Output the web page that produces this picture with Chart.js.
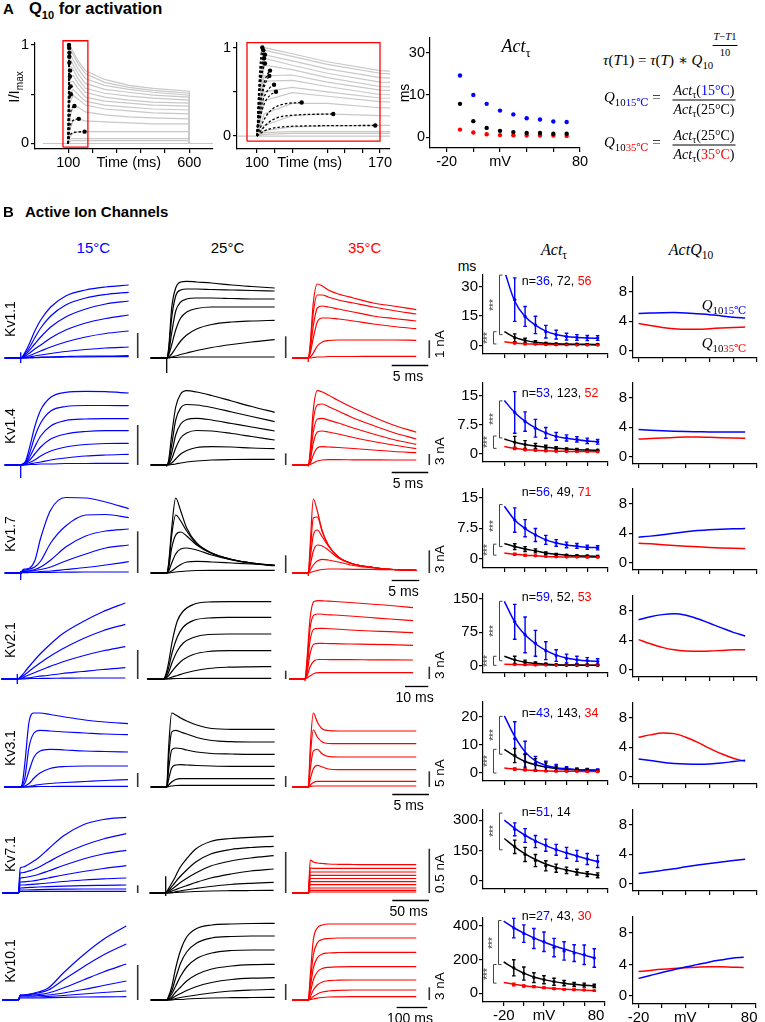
<!DOCTYPE html>
<html>
<head>
<meta charset="utf-8">
<script src="https://cdn.jsdelivr.net/npm/chart.js@4.4.1/dist/chart.umd.min.js"></script>
<style>
html,body{margin:0;padding:0;background:#fff;}
#fig{position:relative;width:765px;height:1022px;overflow:hidden;background:#fff;font-family:"Liberation Sans",Arial,sans-serif;color:#000;}
#fig canvas{position:absolute;}
.t{position:absolute;white-space:nowrap;line-height:1;}
.serif{font-family:"Liberation Serif","DejaVu Serif",serif;}
.frac{display:inline-flex;flex-direction:column;align-items:center;}
.frac .num{border-bottom:1px solid #000;padding:0 1px 2px;line-height:1;}
.frac .den{padding-top:2px;line-height:1;}
.sb{font-size:.72em;position:relative;top:.35em;}
.b{color:#0000ff}.r{color:#ff0000}
</style>
</head>
<body>
<div id="fig"></div>
<script>
// ======================= DATA =======================
// ---- Panel A : example normalised currents (I/Imax) ----
const aGrayTimes = [100,104,120,140,170,250,350,450,600,600];
const aGrayTraces = [
 [0,1.00,0.93,0.84,0.74,0.65,0.59,0.56,0.53,0],
 [0,0.97,0.90,0.81,0.71,0.62,0.57,0.54,0.51,0],
 [0,0.92,0.85,0.76,0.66,0.59,0.55,0.52,0.49,0],
 [0,0.88,0.80,0.71,0.61,0.55,0.52,0.49,0.47,0],
 [0,0.80,0.75,0.66,0.56,0.51,0.48,0.46,0.44,0],
 [0,0.68,0.69,0.61,0.52,0.47,0.44,0.42,0.41,0],
 [0,0.62,0.63,0.56,0.47,0.43,0.41,0.39,0.38,0],
 [0,0.50,0.55,0.50,0.43,0.39,0.37,0.35,0.34,0],
 [0,0.40,0.49,0.45,0.39,0.35,0.33,0.31,0.30,0],
 [0,0.25,0.37,0.37,0.32,0.29,0.27,0.26,0.25,0],
 [0,0.12,0.23,0.25,0.23,0.22,0.21,0.20,0.20,0],
 [0,0.06,0.105,0.115,0.12,0.12,0.12,0.12,0.12,0],
 [0,0.04,0.05,0.05,0.05,0.05,0.05,0.05,0.05,0],
 [0,0.02,0.03,0.03,0.03,0.03,0.03,0.03,0.03,0]
];
const aBaselineTimes = [-5, 698];
const aBaselineValues = [0, 0];
const aFitTimes = [
 [100,100.8,101.6,102.3,103],
 [100,101,102,103,103.6],
 [100,101,102,103,104.5],
 [100,101,102,103,104],
 [100,101,102,103,104.5],
 [100,101,102.5,104,105.5,107.4],
 [100,101,102.5,104,105.5,107],
 [100,101.5,103,105,107.5,109.7],
 [100,101.5,103,105,108,110.8],
 [100,102,105,109,115,125.4],
 [100,103,107,112,120,143.4],
 [100,103,108,115,130,167.3]
];
const aFitValues = [
 [0,0.45,0.76,0.92,1.00],
 [0,0.45,0.75,0.91,0.97],
 [0,0.40,0.66,0.82,0.92],
 [0,0.40,0.65,0.80,0.88],
 [0,0.35,0.58,0.72,0.82],
 [0,0.25,0.47,0.60,0.68,0.74],
 [0,0.22,0.42,0.55,0.63,0.68],
 [0,0.22,0.38,0.48,0.55,0.58],
 [0,0.17,0.30,0.40,0.47,0.50],
 [0,0.10,0.22,0.31,0.36,0.38],
 [0,0.08,0.16,0.21,0.235,0.25],
 [0,0.045,0.085,0.105,0.115,0.12]
];
const aBox1Times = [78, 181],   aBox1Values = [-0.037, 1.043];
const aBox2Times = [94.3, 170], aBox2Values = [-0.058, 1.055];
const aTauVoltages = [-10,0,10,20,30,40,50,60,70];
const aTau15 = [14.6,10.0,7.9,6.3,5.4,4.5,4.2,3.7,3.6];
const aTau25 = [7.9,3.8,2.2,1.5,1.2,1.0,1.0,0.8,0.8];
const aTau35 = [1.8,1.1,0.7,0.5,0.45,0.4,0.4,0.4,0.3];
const aTauTickValues = [0,10,20];
const aTauTickLabels = ['0','10','30'];

// ---- Panel B ----
const channels = ['Kv1.1','Kv1.4','Kv1.7','Kv2.1','Kv3.1','Kv7.1','Kv10.1'];
const tempLabels = ['15°C','25°C','35°C'];
// sample times (ms after the voltage step) for each channel row
const sampleTimes = [
 [-2.19,0,0.27,0.68,1.23,1.91,2.73,4.10,6.15,8.88,11.61,14.75],
 [-2.19,0,0.27,0.68,1.23,1.91,2.73,4.10,6.15,8.88,11.61,14.75],
 [-2.90,0,0.36,0.91,1.63,2.54,3.62,5.43,8.15,11.78,15.40,19.57],
 [-6.87,0,0.86,2.15,3.86,6.01,8.58,12.88,19.31,27.90,36.48,46.35],
 [-2.18,0,0.27,0.68,1.23,1.91,2.72,4.09,6.13,8.86,11.58,14.71],
 [-21.8,0,2.7,6.8,12.3,19.1,27.2,40.9,61.3,88.6,115.8,147.1],
 [-52.1,0,6.5,16.3,29.3,45.6,65.1,97.7,146.6,211.7,276.9,351.8]
];
const timeBarMs = [5,5,5,10,5,50,100];
const timeBarLabels = ['5 ms','5 ms','5 ms','10 ms','5 ms','50 ms','100 ms'];
const ampBarLabels = ['1 nA','3 nA','3 nA','3 nA','5 nA','0.5 nA','3 nA'];
const ampBars = [[25,21.7,17.7],[40,11.7,11],[41.7,17.7,22.7],[29,8.3,12.3],[14,11,15.7],[7.7,41,44.3],[35,16,12.7]];
const artifacts = [
 [[5.7,5],[0,18],[0,4]],
 [[0,13],[0,1.5],[0,1.5]],
 [[2,7],[0,0],[0,3]],
 [[5,5],[0,0],[0,2]],
 [[0,1],[0,0],[0,1]],
 [[0,0],[16.7,3],[0,0]],
 [[0,0],[0,0],[0,0]]
];

// current traces (a.u.) per channel and temperature
const kv11_15 = [
 [0,0,1.7,6.7,15,26.7,38,51,62,68,71,73],
 [0,0,1.5,5,11,20,30,42,53,60,63.5,65.7],
 [0,0,1,3.5,8,14,21,31,41,49,54,57],
 [0,0,1,2,5,9,13,20,28,35,39.5,43],
 [0,0,0.5,1,2.5,4.5,7,11,16,21,24.5,27],
 [0,0,0,0.5,1,2,3,4.5,6.5,8.5,10,11],
 [0,0,0,0,0.5,0.5,1,1,1.5,2,2,2.3],
 [0,0,0,0,0,0.3,0.5,0.8,1,1.2,1.3,1.3]
];
const kv11_25 = [
 [0,0,10,50,70,76,76.7,76,75,73,71.5,70],
 [0,0,8,40,62,68,69,69,68.5,68,67.5,67],
 [0,0,5,25,47,56,59,60,60,59.5,59,59],
 [0,0,3,13,28,40,46,49.5,51,51,51,51],
 [0,0,1,4,10,17,23,29,33.5,36,37,37.7],
 [0,0,0.5,1,2,3.5,5,7.5,10.5,13.5,16,18.3],
 [0,0,0,0.5,0.5,1,1,1,1,1,1,1]
];
const kv11_35 = [
 [0,0,15,55,74,72,68,64,60,55,52,48.3],
 [0,0,12,45,63,63,61,58,55,51,47.5,44],
 [0,0,8,32,50,52,51,49,46,42,39.5,37],
 [0,0,5,20,36,40,40,39,37,34,31.5,29.3],
 [0,0,1,5,12,16,17.5,18,18,18,18,17.7],
 [0,0,0,0.5,1,1,1.5,1.5,1.5,1.7,1.7,1.7]
];
const kv14_15 = [
 [0,0,1,4,18,38,55,67.7,72.7,73.7,73.3,72],
 [0,0,1,3,12,28,42,54,58.5,59.5,59.5,59.3],
 [0,0,0.5,2,8,18,29,39,44.5,46,46.3,46.3],
 [0,0,0.5,1.5,5,11,18,26,31,33.5,34.3,34.3],
 [0,0,0,1,2.5,5,9,14,18,20.5,21.5,21.7],
 [0,0,0,0.5,1,2,3,5,7,9,10,10.7],
 [0,0,0,0,0.5,0.5,1,1,1.5,1.5,1.7,1.7]
];
const kv14_25 = [
 [0,0,5,30,58,71,74.3,73,69.5,64,58.5,52.7],
 [0,0,3,20,45,57,60.5,60,57.5,53,48.5,43.3],
 [0,0,2,12,30,41,45.5,46.7,45,41.5,38,34],
 [0,0,1,6,17,27,32,34.5,34,31.5,28.5,25],
 [0,0,0.5,2,6,11,14.5,17.5,18.3,18,17,16.3],
 [0,0,0,0.5,1,2,3,4,5,5.5,5.7,5.7]
];
const kv14_35 = [
 [0,0,15,55,74.3,73,70,64.5,57,48,40,32.7],
 [0,0,12,45,60,61,58.5,54,47,39.5,32.5,26],
 [0,0,8,33,46,46.7,45,42,37,31,25.5,20.7],
 [0,0,5,22,33,34,33,31,27.5,23.5,20,16.3],
 [0,0,2,10,17,18.3,18,17.5,16.5,15,13.5,12.3],
 [0,0,0.5,2,4,5,5.3,5.3,5.2,5.1,5,5]
];
const kv17_15 = [
 [0,0,3,4,5,12,35,63,75.5,75,71,64.3],
 [0,0,2,3,4,6,12,30,47,58,58.5,55.3],
 [0,0,1.5,2,2.5,3.5,6,13,26,37,42,44],
 [0,0,1,1.5,2,2.5,3.5,6,12,19,25,28],
 [0,0,0.5,0.5,1,1,1.5,2,3.5,5.5,8,11.3],
 [0,0,0.3,0.3,0.5,0.5,0.5,0.7,0.8,1,1,1]
];
const kv17_25 = [
 [0,0,10,45,75,62,45,30,20,13.5,10,7.7],
 [0,0,8,38,58,52,42,29,20,13.5,10,7.7],
 [0,0,5,25,38,41,37,28,19.5,13.5,10,7.5],
 [0,0,2,10,19,24,25,23,18,13,9.5,7.3],
 [0,0,0.5,2,5,8.5,11,11.7,11,10,9,7.7],
 [0,0,0,0.5,1,1.5,2,2.5,2.7,2.7,2.7,2.7]
];
const kv17_35 = [
 [0,0,30,74,62,42,28,16,9,5.5,3.5,2.7],
 [0,0,22,55,56,41,28,16,9,5.5,3.5,2.7],
 [0,0,15,38,43,36,27,16,9,5.5,3.5,2.7],
 [0,0,8,22,28,27,23,15,9,5.5,3.5,2.7],
 [0,0,3,8,12,13.7,13,11,7.5,5,3.5,2.7],
 [0,0,0.5,1.5,2.5,3.5,4,4,3.7,3.5,3.3,3]
];
const kv21_15 = [
 [0,0,1,4,9,15,22,32,45,57,67,76],
 [0,0,0.5,2.5,5.5,9.5,14,21,30,40,48,54.7],
 [0,0,0.5,1,3,5,7.5,11.5,17,23,28,32.3],
 [0,0,0,0.5,1,1.5,2.5,3.5,5.5,7.5,9.5,11.3],
 [0,0,0,0,0.3,0.5,0.5,0.7,0.8,1,1,1]
];
const kv21_25 = [
 [0,0,3,15,38,58,68,74.5,77,77.3,77.3,77.3],
 [0,0,2,10,27,42,52,58.5,61,61.7,61.7,61.7],
 [0,0,1,6,17,28,36,41.5,44.5,45,45,45],
 [0,0,0.5,3,8,14,19.5,24.5,27.5,28.3,28.3,28.3],
 [0,0,0,0.5,2,3.5,5.5,8,10.5,11.8,12.2,12.3],
 [0,0,0,0,0.3,0.5,0.5,0.6,0.7,0.7,0.7,0.7]
];
const kv21_35 = [
 [0,0,20,60,77.5,78.3,78,77.5,76.5,75,73.5,71.3],
 [0,0,15,50,64,65,64.5,64,63,61.5,60,58.3],
 [0,0,10,38,50,50.7,50.5,50,49,48,47.3,46.3],
 [0,0,6,25,35,35.7,35.5,35.3,35,34.7,34.3,33.7],
 [0,0,3,12,18,19.5,19.5,19.3,19.3,19.2,19.1,19],
 [0,0,1,3,5.5,6.3,6.3,6.3,6.3,6.3,6.3,6.3]
];
const kv31_15 = [
 [0,0,2,25,65,74,74,72.5,70,67,65,63.3],
 [0,0,1,10,40,54,56.7,56,55,54,53,52.3],
 [0,0,0.5,4,16,30,36,37.7,37,36,35.5,35],
 [0,0,0,1,3.5,9,14,18.5,20.5,21,21,21],
 [0,0,0,0,0.5,1.5,2.5,3.5,4.5,5.5,6.5,7.3],
 [0,0,0,0,0,0.3,0.5,0.5,0.6,0.7,0.7,0.7]
];
const kv31_25 = [
 [0,0,40,74,72,69,66,62,58.5,57.7,57.7,57.7],
 [0,0,30,55,56.7,55,53,49.5,46.5,45.3,45,45],
 [0,0,18,37,39,38.5,37,35,33.5,33,32.7,32.7],
 [0,0,8,19,22,22.3,22,21.5,21,20.7,20.7,20.7],
 [0,0,2,5,7.5,8.3,8.3,8.3,8.3,8.3,8.3,8.3],
 [0,0,0.5,1,1.5,1.7,1.7,1.7,1.7,1.7,1.7,1.7]
];
const kv31_35 = [
 [0,0,40,74,65,58,56.5,56,56,56,56,56],
 [0,0,30,57,50,45,43.5,43.3,43.3,43.3,43.3,43.3],
 [0,0,18,36,37.7,33,30.5,30,30,30,30,30],
 [0,0,8,18,21.7,20,18,17.3,17.3,17.3,17.3,17.3],
 [0,0,2,4.5,5.7,5.7,5.7,5.7,5.7,5.7,5.7,5.7],
 [0,0,0.5,1,1,1,1,1,1,1,1,1]
];
const kv71_15 = [
 [0,0,25,26,28,31,35,44,57,68.3,73.5,75.7],
 [0,0,20,20.5,21.5,23,25.5,31,39,47.5,54,59.3],
 [0,0,15,15.3,16,17,18.5,22,27.5,34,39,42.7],
 [0,0,11,11.2,11.5,12,13,15,18,21.5,24.5,27.3],
 [0,0,8,8,8.3,8.7,9.2,10,11.5,13,14.2,15],
 [0,0,5,5.2,5.4,5.7,6,6.4,6.9,7.4,7.7,8],
 [0,0,3,3,3,3.2,3.4,3.6,3.8,4,4,4],
 [0,0,1.5,1.5,1.5,1.5,1.6,1.6,1.7,1.7,1.7,1.7]
];
const kv71_25 = [
 [0,0,3,8,15,25,33,44,51.5,54.5,55.7,56.7],
 [0,0,2,5,10,16,22,31,39,43.5,45.5,46.7],
 [0,0,1,3,6,10,14,20,27,32,35,37.3],
 [0,0,0.5,1.5,3,5,7,10.5,15,19,22,24],
 [0,0,0,0.5,1,2,3,4.5,6.5,8.5,9.7,10.7],
 [0,0,0,0,0.5,0.8,1,1.5,2,2.3,2.5,2.7]
];
const kv71_35 = [
 [0,0,33,31,30,29.5,29,28.7,28.5,28.3,28.3,28.3],
 [0,0,25,24.7,24.7,24.7,24.7,24.7,24.7,24.7,24.7,24.7],
 [0,0,21,21,21,21,21,21,21,21,21,21],
 [0,0,17.7,17.7,17.7,17.7,17.7,17.7,17.7,17.7,17.7,17.7],
 [0,0,14.5,14.5,14.5,14.5,14.5,14.5,14.5,14.5,14.5,14.5],
 [0,0,11.3,11.3,11.3,11.3,11.3,11.3,11.3,11.3,11.3,11.3],
 [0,0,8.3,8.3,8.3,8.3,8.3,8.3,8.3,8.3,8.3,8.3],
 [0,0,5,5,5,5,5,5,5,5,5,5],
 [0,0,2.7,2.7,2.7,2.7,2.7,2.7,2.7,2.7,2.7,2.7],
 [0,0,1,1,1,1,1,1,1,1,1,1]
];
const kv101_15 = [
 [0,0,5,5,5.5,6.5,8,12,27,45,60.5,74],
 [0,0,5,5,5,6,7,10,20,33,45,56],
 [0,0,4.5,4.5,4.5,5,5.5,7,12,20,28,36],
 [0,0,4,4,4,4,4.5,5,7,10.5,14.5,19],
 [0,0,3,3,3,3,3,3.5,4.5,6,7.5,9],
 [0,0,2,2,2,2,2,2.3,2.7,3,3.2,3.3]
];
const kv101_25 = [
 [0,0,4,13,32,50,63,71.5,75,76,76.5,76.7],
 [0,0,3,9,22,37,48,57,62,63.5,64,64],
 [0,0,2,6,14,24,33,41.5,47,49.5,50,50],
 [0,0,1,3,8,13,19,25.5,31,34,35.3,35.7],
 [0,0,0.5,1.5,4,6.5,9.5,13.5,17.5,20.5,21.8,22.3],
 [0,0,0,0.5,1.5,2.5,3.5,5,7,9,10,10.7],
 [0,0,0,0,0.5,0.5,1,1.5,2,2.3,2.5,2.7]
];
const kv101_35 = [
 [0,0,25,60,72,75,76,76,76,76,76,76],
 [0,0,18,45,57,60.5,61.5,62,62,62,62,62],
 [0,0,12,32,42,46,47,47.5,47.7,47.7,47.7,47.7],
 [0,0,7,20,28,31.5,32.7,33.2,33.3,33.3,33.3,33.3],
 [0,0,3,10,15,18,19.3,19.8,20,20,20,20],
 [0,0,1,3.5,6,8,9,9.7,10,10,10,10],
 [0,0,0.5,1,1.8,2.5,3,3.2,3.3,3.3,3.3,3.3]
];

// activation time constants (ms): fitted curves, means and error bars [15°C, 25°C, 35°C]
const tauFitVoltages = [-20,-10,0,10,20,30,40,50,60,70];
const tauMeanVoltages = [-10,0,10,20,30,40,50,60,70];
const tauFitKv11 = [[38,22.5,14.8,10.4,7.4,5.7,4.7,4.2,3.9,3.8],[7.1,4.2,2.7,1.8,1.3,1.0,0.9,0.8,0.7,0.65],[2.0,1.4,1.0,0.8,0.65,0.55,0.5,0.45,0.45,0.4]];
const tauMeanKv11 = [[23.3,14.8,10.5,7.1,5.6,4.6,4.2,3.9,3.9],[4.0,2.6,1.7,1.2,0.9,0.8,0.8,0.7,0.6],[1.4,0.9,0.8,0.6,0.5,0.5,0.4,0.4,0.4]];
const tauErrKv11 = [[11,5,4.4,3.2,2.2,1.7,1.4,1.3,1.2],[2,1.2,0.8,0.5,0.4,0.3,0.3,0.3,0.3],[0.4,0.3,0.2,0.2,0.2,0.2,0.2,0.2,0.2]];
const tauFitKv14 = [[13.7,10.6,8.3,6.6,5.3,4.4,3.9,3.5,3.2,3.0],[3.7,2.9,2.3,1.9,1.6,1.3,1.1,0.95,0.87,0.8],[1.75,1.3,0.95,0.8,0.65,0.55,0.5,0.45,0.45,0.42]];
const tauMeanKv14 = [[10.6,8.25,6.5,5.3,4.4,4.0,3.65,3.25,3.0],[2.9,2.3,1.9,1.6,1.3,1.1,0.95,0.87,0.8],[1.3,0.95,0.8,0.65,0.55,0.5,0.45,0.45,0.42]];
const tauErrKv14 = [[5.4,2.5,2.3,1.4,1.0,0.8,0.7,0.7,0.6],[1.5,1.0,0.7,0.5,0.4,0.3,0.3,0.2,0.2],[0.3,0.2,0.2,0.15,0.15,0.1,0.1,0.1,0.1]];
const tauFitKv17 = [[12.9,9.5,7.4,5.85,4.65,3.9,3.4,3.1,2.85,2.7],[3.75,3.0,2.4,1.95,1.45,1.1,0.9,0.75,0.7,0.6],[1.4,1.1,0.9,0.75,0.6,0.5,0.45,0.45,0.4,0.4]];
const tauMeanKv17 = [[9.5,7.5,5.85,4.65,3.9,3.4,3.15,2.85,2.7],[3.0,2.4,1.95,1.4,1.1,0.9,0.75,0.7,0.6],[1.1,0.9,0.75,0.6,0.5,0.45,0.45,0.4,0.4]];
const tauErrKv17 = [[3,2.1,1.6,1.1,0.8,0.7,0.6,0.5,0.5],[0.7,0.6,0.5,0.3,0.2,0.2,0.2,0.2,0.2],[0.25,0.2,0.15,0.1,0.1,0.1,0.1,0.1,0.1]];
const tauFitKv21 = [[144,98,69,49,34,23.5,17,13.5,11,9.6],[21,13,7.8,5.2,3.4,2.2,1.6,1.3,1.1,1.0],[3.4,2.7,2.0,1.6,1.3,1.1,0.9,0.8,0.75,0.7]];
const tauMeanKv21 = [[98,69,50,33.5,22.6,15.8,13,11,9.6],[13,7.5,5.5,3.4,2.0,1.4,1.2,1.0,1.0],[2.7,2.0,1.6,1.3,1.1,0.9,0.8,0.75,0.7]];
const tauErrKv21 = [[39,40,29,20,13,10,8,7,6],[8,5,3,2,1.2,1,0.8,0.7,0.7],[0.8,0.6,0.5,0.4,0.3,0.3,0.3,0.3,0.3]];
const tauFitKv31 = [[20.3,13,7.5,4.3,2.7,1.9,1.5,1.2,1.1,1.0],[8.4,6.0,4.1,2.9,2.1,1.6,1.3,1.1,1.0,0.9],[1.75,1.4,1.1,0.9,0.75,0.65,0.6,0.6,0.55,0.5]];
const tauMeanKv31 = [[12.2,6.7,3.5,2.4,1.85,1.4,1.2,1.1,1.0],[6.2,4.0,2.9,2.1,1.6,1.3,1.1,1.0,0.9],[1.4,1.1,0.9,0.75,0.65,0.6,0.6,0.55,0.5]];
const tauErrKv31 = [[6,4.6,2.4,1.8,1.2,0.8,0.6,0.5,0.4],[2.5,2.7,2.2,1.5,0.9,0.6,0.4,0.4,0.3],[0.4,0.3,0.2,0.2,0.2,0.2,0.2,0.2,0.2]];
const tauFitKv71 = [[300,259,225,197,174,154,137,122,108,95],[209,168,133,105,83,66,53,42,34,28],null];
const tauMeanKv71 = [[254.5,224,194,176,153,138,123,107.5,95.5],[168,130,100,74,62,51.5,42.5,33,27],null];
const tauErrKv71 = [[32,34,30,30,27,27,27,27,30],[33,35,30,25,20,16,14,12,12],null];
const tauFitKv101 = [[429,390,358,330,305,283,263,245,227,210],[186,150,120,97,81,69,60,53,48,43],[64,53,45,38,33,28,24,21,18,16]];
const tauMeanKv101 = [[388,355,326,307,272,252,239,229,210],[151,117,93,80,68,60,52,48,43],[52,43,39,33,27,23,21,19,15.5]];
const tauErrKv101 = [[58,52,60,58,55,55,50,58,55],[48,39,29,24,21,16,12,12,10],[8,6,5,5,4,4,4,3,3]];
const tauTicks = [[0,15,30],[0,7.5,15],[0,7.5,15],[0,75,150],[0,10,20],[0,150,300],[0,200,400]];
const tauYRange = [[-4.18,35.76],[-2.24,18.24],[-2.25,17.12],[-16.4,160.3],[-2.84,25.22],[-40.9,350],[-52.4,448.2]];
const sigBrackets = [
 [[35.7,5.6],[7.1,0.9]],
 [[13.6,4.0],[4.5,1.3]],
 [[13.3,3.0],[3.6,0.9]],
 [[144,11],[21,0.7]],
 [[20.1,6.7],[8.4,0]],
 [[335,153]],
 [[433,171],[171,60]]
];
const nCounts = [[36,72,56],[53,123,52],[56,49,71],[59,52,53],[43,143,34],[51,14],[27,43,30]];

// Q10 curves [Q10 15°C, Q10 35°C]
const q10Voltages = [-20,-10,0,10,20,30,40,50,60,70];
const q10Kv11 = [[5.04,5.1,5.16,5.17,5.12,5.0,4.88,4.72,4.55,4.42],[3.7,3.4,3.15,2.98,2.9,2.9,2.98,3.08,3.15,3.2]];
const q10Kv14 = [[3.69,3.6,3.52,3.45,3.4,3.38,3.36,3.36,3.36,3.36],[2.38,2.47,2.54,2.6,2.66,2.66,2.62,2.58,2.54,2.5]];
const q10Kv17 = [[3.46,3.6,3.78,4.0,4.19,4.35,4.47,4.55,4.6,4.62],[2.64,2.55,2.44,2.34,2.24,2.15,2.07,2.0,1.95,1.91]];
const q10Kv21 = [[6.78,7.18,7.47,7.59,7.39,6.9,6.29,5.67,5.06,4.57],[4.08,3.51,3.02,2.69,2.53,2.49,2.53,2.61,2.69,2.69]];
const q10Kv31 = [[2.41,2.2,1.96,1.8,1.71,1.67,1.71,1.84,2.04,2.24],[5.35,5.67,5.92,5.84,5.35,4.65,3.84,3.1,2.49,2.08]];
const q10Kv71 = [[1.39,1.58,1.8,2.02,2.29,2.53,2.75,2.95,3.13,3.31],null];
const q10Kv101 = [[2.24,2.6,2.98,3.33,3.67,3.98,4.29,4.55,4.78,4.9],[3.1,3.25,3.39,3.5,3.59,3.66,3.71,3.7,3.65,3.6]];
const q10Ticks = [0,4,8];
const mvTicks = [-20,0,20,40,60,80];

// tables built from the arrays above
const traceSets = [[kv11_15,kv11_25,kv11_35],[kv14_15,kv14_25,kv14_35],[kv17_15,kv17_25,kv17_35],[kv21_15,kv21_25,kv21_35],[kv31_15,kv31_25,kv31_35],[kv71_15,kv71_25,kv71_35],[kv101_15,kv101_25,kv101_35]];
const tauFits = [tauFitKv11,tauFitKv14,tauFitKv17,tauFitKv21,tauFitKv31,tauFitKv71,tauFitKv101];
const tauMeans = [tauMeanKv11,tauMeanKv14,tauMeanKv17,tauMeanKv21,tauMeanKv31,tauMeanKv71,tauMeanKv101];
const tauErrs = [tauErrKv11,tauErrKv14,tauErrKv17,tauErrKv21,tauErrKv31,tauErrKv71,tauErrKv101];
const q10Sets = [q10Kv11,q10Kv14,q10Kv17,q10Kv21,q10Kv31,q10Kv71,q10Kv101];

// ======================= LAYOUT =======================
const BLUE='#0000ff', RED='#ff0000', BLACK='#000000', GRAY='#c8c8c8';
const tempColors=[BLUE,BLACK,RED];
const traceColLeft=[0,147,289];
const traceBaseline=[358,465,573,679,787,893,1000];
const traceOnsets=[[20.7,166.7,308.3],[20.7,166.7,308.3],[20.7,166.7,308.3],[17.3,163.3,305],[20,166.7,308.3],[18.3,165.7,308.3],[18.3,166.7,308.3]];
const timeBarPx=[36.6,36.6,27.6,23.3,36.7,36.7,30.7];
const timeBarRight=[428.3,428.3,419.3,428.3,429,429,427.3];
const ampBarX=[137.7,285.7,429.3];
const tauAxisY=[359,467,573,678,786,894,1002];
const q10Zero=[355.3,462,568.3,674.7,782,888.7,996];
const nLabelY=[281,392.5,492,597,712.7,811.7,916];
const bracketX=[-25.5,-30.5];
const AXFONT=15;

Chart.defaults.font.family='"Liberation Sans", Arial, sans-serif';
Chart.defaults.color='#000';

const fig=document.getElementById('fig');

function canvasAt(l,t,w,h){
  const c=document.createElement('canvas');
  c.width=w; c.height=h;
  c.style.left=l+'px'; c.style.top=t+'px';
  c.style.width=w+'px'; c.style.height=h+'px';
  fig.appendChild(c);
  return c;
}
function addText(html,x,y,cls,style,mode){
  const d=document.createElement('div');
  d.className='t'+(cls?' '+cls:'');
  if(style) d.style.cssText=style;
  d.innerHTML=html;
  d.style.left=x+'px'; d.style.top=y+'px';
  const tf={c:'translate(-50%,-50%)', l:'translateY(-50%)', rc:'translate(-50%,-50%) rotate(-90deg)', rb:'translateY(-50%) rotate(-90deg)'}[mode||'l'];
  d.style.transform=tf;
  if(mode==='rb') d.style.transformOrigin='0 50%';
  fig.appendChild(d);
  return d;
}
function lineDS(xs,ys,color,width,extra){
  return Object.assign({data:xs.map((x,i)=>({x:x,y:ys[i]})),borderColor:color,backgroundColor:color,borderWidth:width,pointRadius:0,fill:false,tension:0},extra||{});
}
function linAxis(o){
  return {
    type:'linear', position:o.pos, min:o.min, max:o.max,
    afterBuildTicks:a=>{a.ticks=o.ticks.map(v=>({value:v}));},
    afterFit:s=>{ if(o.pos==='bottom') s.height=o.size; else s.width=o.size; },
    ticks:{display:o.labels!==false, autoSkip:false, maxRotation:0, minRotation:0, padding:(o.pad==null?1:o.pad),
      font:{size:o.fs||AXFONT}, color:'#000', callback:(v)=>o.fmt?o.fmt(v):String(v)},
    grid:{display:true, drawOnChartArea:false, drawTicks:true, tickLength:o.tl||4, color:'#000', lineWidth:1.2,
      tickColor:o.tickColor||'#000'},
    border:{display:true, color:'#000', width:1.2}
  };
}
const errPlugin={id:'err',afterDatasetsDraw(chart){
  const ctx=chart.ctx, xs=chart.scales.x, ys=chart.scales.y;
  chart.data.datasets.forEach(ds=>{
    if(!ds.errors) return;
    ctx.save(); ctx.strokeStyle=ds.borderColor; ctx.lineWidth=1.4;
    ds.data.forEach((p,i)=>{
      const e=ds.errors[i]; const x=xs.getPixelForValue(p.x);
      const y1=ys.getPixelForValue(p.y-e), y2=ys.getPixelForValue(p.y+e);
      ctx.beginPath(); ctx.moveTo(x,y1); ctx.lineTo(x,y2);
      ctx.moveTo(x-1.8,y1); ctx.lineTo(x+1.8,y1); ctx.moveTo(x-1.8,y2); ctx.lineTo(x+1.8,y2);
      ctx.stroke();
    });
    ctx.restore();
  });
}};
const brkPlugin={id:'brk',afterDatasetsDraw(chart,args,opts){
  if(!opts||!opts.items) return;
  const ctx=chart.ctx, xs=chart.scales.x, ys=chart.scales.y;
  ctx.save(); ctx.strokeStyle='#444'; ctx.lineWidth=1;
  opts.items.forEach((b,i)=>{
    const x=Math.round(xs.getPixelForValue(opts.xs[i]))+0.5, yt=ys.getPixelForValue(b[0]), yb=ys.getPixelForValue(b[1]);
    ctx.beginPath(); ctx.moveTo(x+3,yt); ctx.lineTo(x,yt); ctx.lineTo(x,yb); ctx.lineTo(x+3,yb); ctx.stroke();
  });
  ctx.restore();
}};
function axesChart(g,datasets,xAx,yAx,pluginOpts){
  const padT=8,padR=14;
  const l=g.L-g.wy, t=g.T-padT, w=g.wy+g.W+padR, h=padT+g.H+g.hx;
  const cv=canvasAt(l,t,w,h);
  const chart=new Chart(cv,{type:'line',data:{datasets:datasets},options:{
    responsive:false, animation:false, events:[],
    layout:{padding:{top:padT,right:padR,left:0,bottom:0}},
    plugins:Object.assign({legend:{display:false},tooltip:{enabled:false}},pluginOpts||{}),
    scales:{x:xAx,y:yAx}
  },plugins:[errPlugin,brkPlugin]});
  chart.$pageL=l; chart.$pageT=t;
  return chart;
}

// ======================= PANEL A =======================
addText('A',3,8,'','font-weight:bold;font-size:15px','l');
addText('Q<span style="font-size:11px;position:relative;top:5px">10</span> for activation',29,8,'','font-weight:bold;font-size:16.5px','l');

function panelAChart(g,xr,xticks,xfmt,yr,boxT,boxV){
  const ds=[];
  aFitTimes.forEach((ts,k)=>{const n=ts.length; ds.push(lineDS(ts,aFitValues[k],BLACK,1.3,{borderDash:[2.5,2],pointRadius:c=>c.dataIndex===n-1?2.2:0,pointBackgroundColor:BLACK,pointBorderWidth:0,cubicInterpolationMode:'monotone'}));});
  ds.push(lineDS([boxT[0],boxT[1],boxT[1],boxT[0],boxT[0]],[boxV[0],boxV[0],boxV[1],boxV[1],boxV[0]],RED,1.3,{clip:false}));
  aGrayTraces.forEach(tr=>ds.push(lineDS(aGrayTimes,tr,GRAY,1.2)));
  ds.push(lineDS(aBaselineTimes,aBaselineValues,GRAY,1.2));
  return axesChart(g,ds,
    linAxis({pos:'bottom',min:xr[0],max:xr[1],ticks:xticks,size:22,pad:1,fmt:xfmt,fs:14.5,
      tickColor:c=>(c.tick&&xfmt(c.tick.value)==='Time (ms)')?'rgba(0,0,0,0)':'#000'}),
    linAxis({pos:'left',min:yr[0],max:yr[1],ticks:[0,0.5,1],size:22,pad:2,fs:14.5,fmt:v=>v===0?'0':v===1?'1':''}));
}
panelAChart({L:35,T:40,W:178,H:109,wy:22,hx:22},[-37.6,698],[100,200,300,350,400,500,600],
  v=>v===100?'100':v===350?'Time (ms)':v===600?'600':'',[-0.056,1.023],aBox1Times,aBox1Values);
panelAChart({L:237,T:40,W:153,H:109,wy:22,hx:22},[88.6,175.7],[100,110,120,130,140,150,160,170],
  v=>v===100?'100':v===130?'Time (ms)':v===170?'170':'',[-0.146,1.055],aBox2Times,aBox2Values);
addText('I/I<span style="font-size:10px;position:relative;top:4px">max</span>',13,87,'','font-size:15px','rc');

// A3 tau scatter
(function(){
  const ds=[
    lineDS(aTauVoltages,aTau15,BLUE,1,{showLine:false,pointRadius:2.2,pointBorderWidth:0}),
    lineDS(aTauVoltages,aTau25,BLACK,1,{showLine:false,pointRadius:2.2,pointBorderWidth:0}),
    lineDS(aTauVoltages,aTau35,RED,1,{showLine:false,pointRadius:2.2,pointBorderWidth:0})
  ];
  axesChart({L:430,T:36,W:150,H:112,wy:28,hx:22},ds,
    linAxis({pos:'bottom',min:-32.5,max:80,ticks:mvTicks,size:22,pad:1,fs:14.5,fmt:v=>v===-20?'-20':v===20?'mV':v===80?'80':''}),
    linAxis({pos:'left',min:-2.56,max:23.56,ticks:aTauTickValues,size:28,pad:1,fs:14.5,fmt:v=>aTauTickLabels[aTauTickValues.indexOf(v)]}));
  addText('ms',404,93,'','font-size:14px','rc');
  addText('<i>Act</i><span class="sb">τ</span>',516,46,'serif','font-size:18px','c');
})();

// equations
addText('<i>τ</i>(<i>T</i>1) = <i>τ</i>(<i>T</i>) ∗ <i>Q</i><span class="sb">10</span>',603,60,'serif','font-size:15px','l');
addText('<span class="frac"><span class="num"><i>T</i>−<i>T</i>1</span><span class="den">10</span></span>',725,45,'serif','font-size:10.5px','c');
addText('<i>Q</i><span class="sb">10<span class="b">15℃</span></span> =',604,97,'serif','font-size:15px','l');
addText('<span class="frac"><span class="num"><i>Act</i><span class="sb">τ</span>(<span class="b">15°C</span>)</span><span class="den"><i>Act</i><span class="sb">τ</span>(25°C)</span></span>',704,99.5,'serif','font-size:14px','c');
addText('<i>Q</i><span class="sb">10<span class="r">35℃</span></span> =',604,142,'serif','font-size:15px','l');
addText('<span class="frac"><span class="num"><i>Act</i><span class="sb">τ</span>(25°C)</span><span class="den"><i>Act</i><span class="sb">τ</span>(<span class="r">35°C</span>)</span></span>',704,144.5,'serif','font-size:14px','c');

// ======================= PANEL B =======================
addText('B',3,210.5,'','font-weight:bold;font-size:15px','l');
addText('Active Ion Channels',25,210.5,'','font-weight:bold;font-size:15px','l');
addText(tempLabels[0],93.3,247,'','font-size:15px;color:'+BLUE,'c');
addText(tempLabels[1],227.5,247,'','font-size:15px;color:'+BLACK,'c');
addText(tempLabels[2],364.7,247,'','font-size:15px;color:'+RED,'c');
addText('<i>Act</i><span class="sb">τ</span>',554,250,'serif','font-size:16px','c');
addText('<i>Act</i><i>Q</i><span class="sb">10</span>',691,250,'serif','font-size:16px','c');
addText('ms',467,266,'','font-size:14px','c');

function tracePanel(r,c){
  const L=traceColLeft[c], W=150, base=traceBaseline[r], T=base-85, H=100;
  const ppm=timeBarPx[r]/timeBarMs[r], on=traceOnsets[r][c];
  const xmin=(L-on)/ppm, xmax=(L+W-on)/ppm;
  const col=tempColors[c], times=sampleTimes[r];
  const ds=[];
  traceSets[r][c].forEach(tr=>ds.push(lineDS(times,tr,col,1.2,{cubicInterpolationMode:'monotone'})));
  const art=artifacts[r][c];
  if(art[0]||art[1]) ds.push(lineDS([0,0],[art[0],-art[1]],col,1.3));
  const bx=(ampBarX[c]-on)/ppm;
  ds.push(lineDS([bx,bx],[0,ampBars[r][c]],'#333',1.6));
  if(c===2){
    const tr=(timeBarRight[r]-on)/ppm;
    ds.push(lineDS([tr-timeBarMs[r],tr],[-7.5,-7.5],'#000',1.3));
  }
  const cv=canvasAt(L,T,W,H);
  new Chart(cv,{type:'line',data:{datasets:ds},options:{responsive:false,animation:false,events:[],
    layout:{padding:0},plugins:{legend:{display:false},tooltip:{enabled:false}},
    scales:{x:{type:'linear',display:false,min:xmin,max:xmax},y:{type:'linear',display:false,min:-15,max:85}}}});
  if(c===2){
    addText(timeBarLabels[r],timeBarRight[r]-timeBarPx[r]/2-2,base+17.5,'','font-size:14px','c');
    addText(ampBarLabels[r],440,base,'','font-size:13.5px','rb');
  }
}

function tauChart(r){
  const last=r===6;
  const g={L:483,W:125,T:tauAxisY[r]-86,H:86,wy:34,hx:last?24:5};
  const ds=[];
  for(let k=0;k<3;k++){
    if(!tauFits[r][k]) continue;
    ds.push(lineDS(tauFitVoltages,tauFits[r][k],tempColors[k],1.5,{cubicInterpolationMode:'monotone'}));
    ds.push(lineDS(tauMeanVoltages,tauMeans[r][k],tempColors[k],1.4,{showLine:false,pointRadius:1.7,pointBorderWidth:0,errors:tauErrs[r][k]}));
  }
  const ch=axesChart(g,ds,
    linAxis({pos:'bottom',min:-40.6,max:80,ticks:mvTicks,size:g.hx,labels:last,pad:1,
      fmt:v=>v===-20?'-20':v===20?'mV':v===80?'80\u00a0\u00a0\u00a0\u00a0':''}),
    linAxis({pos:'left',min:tauYRange[r][0],max:tauYRange[r][1],ticks:tauTicks[r],size:34,pad:1}),
    {brk:{items:sigBrackets[r],xs:bracketX}});
  sigBrackets[r].forEach((b,i)=>{
    const x=ch.$pageL+ch.scales.x.getPixelForValue(bracketX[i])-5;
    const y=ch.$pageT+(ch.scales.y.getPixelForValue(b[0])+ch.scales.y.getPixelForValue(b[1]))/2;
    addText('***',x,y,'','font-size:10px;color:#333','rc');
  });
  const n=nCounts[r];
  let html='n=<span class="b">'+n[0]+'</span>, '+n[1];
  if(n.length>2) html+=', <span class="r">'+n[2]+'</span>';
  addText(html,521.7,nLabelY[r],'','font-size:12.5px','l');
}

function q10Chart(r){
  const last=r===6;
  const g={L:633,W:124,T:Math.round(q10Zero[r]-81.8),H:90,wy:24,hx:last?24:5};
  const ds=[];
  const cols=[BLUE,RED];
  for(let k=0;k<2;k++){
    if(!q10Sets[r][k]) continue;
    ds.push(lineDS(q10Voltages,q10Sets[r][k],cols[k],1.5,{cubicInterpolationMode:'monotone'}));
  }
  axesChart(g,ds,
    linAxis({pos:'bottom',min:-24.7,max:80,ticks:mvTicks,size:g.hx,labels:last,pad:1,
      fmt:v=>v===-20?'-20':v===20?'mV':v===80?'80\u00a0\u00a0\u00a0':''}),
    linAxis({pos:'left',min:-1,max:10,ticks:q10Ticks,size:24,pad:2}));
}

for(let r=0;r<7;r++){
  addText(channels[r],10,traceBaseline[r]-39,'','font-size:14px','rc');
  for(let c=0;c<3;c++) tracePanel(r,c);
  tauChart(r);
  q10Chart(r);
}
addText('<i>Q</i><span class="sb">10<span class="b">15℃</span></span>',701.7,305,'serif','font-size:15px','l');
addText('<i>Q</i><span class="sb">10<span class="r">35℃</span></span>',701.7,343,'serif','font-size:15px','l');
</script>
</body>
</html>
